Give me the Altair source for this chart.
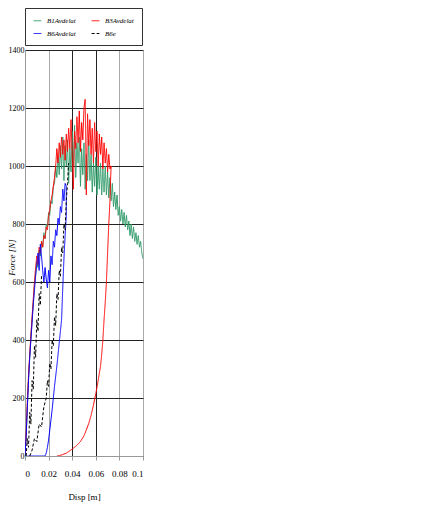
import altair as alt
import pandas as pd

series_names = ["B1Avdelat", "B3Avdelat", "B6Avdelat", "B6e"]
series_colors = ["#2e9a68", "#ff0000", "#0000ff", "#000000"]
series_dash = [[1, 0], [1, 0], [1, 0], [3, 2]]
series_width = [1, 1, 1, 2]

# B1Avdelat (green)
b1_x = [0.000, 0.001, 0.002, 0.003, 0.004, 0.005, 0.006, 0.007, 0.008, 0.009,
        0.010, 0.011, 0.012, 0.013, 0.014, 0.015, 0.016, 0.017, 0.018, 0.019,
        0.020, 0.021, 0.022, 0.023, 0.024, 0.025, 0.026, 0.027, 0.028, 0.029,
        0.030, 0.031, 0.032, 0.033, 0.034, 0.035, 0.036, 0.037, 0.038, 0.039,
        0.040, 0.041, 0.042, 0.043, 0.044, 0.045, 0.046, 0.047, 0.048, 0.049,
        0.050, 0.051, 0.052, 0.053, 0.054, 0.055, 0.056, 0.057, 0.058, 0.059,
        0.060, 0.061, 0.062, 0.063, 0.064, 0.065, 0.066, 0.067, 0.068, 0.069,
        0.070, 0.071, 0.072, 0.073, 0.074, 0.075, 0.076, 0.077, 0.078, 0.079,
        0.080, 0.081, 0.082, 0.083, 0.084, 0.085, 0.086, 0.087, 0.088, 0.089,
        0.090, 0.091, 0.092, 0.093, 0.094, 0.095, 0.096, 0.097, 0.098, 0.099,
        0.100]
b1_y = [0, 70, 170, 270, 340, 410, 470, 530, 590, 630,
        670, 650, 710, 690, 740, 720, 770, 750, 800, 790,
        840, 830, 880, 870, 930, 940, 1000, 960, 1030, 970,
        1070, 990, 1100, 950, 1070, 1000, 1090, 940, 1060, 980,
        1120, 1000, 1140, 960, 1080, 1010, 1100, 930, 1060, 970,
        1080, 920, 1040, 950, 1090, 950, 1040, 910, 1010, 930,
        1030, 900, 1000, 920, 1010, 900, 990, 910, 1000, 900,
        980, 890, 960, 880, 940, 860, 910, 850, 900, 830,
        860, 810, 850, 800, 840, 790, 830, 780, 810, 760,
        800, 750, 790, 740, 770, 730, 760, 720, 740, 700,
        680]

# B3Avdelat (red)
b3_x = [0.000, 0.001, 0.002, 0.003, 0.004, 0.005, 0.006, 0.007, 0.008, 0.009,
        0.010, 0.011, 0.012, 0.013, 0.014, 0.015, 0.016, 0.017, 0.018, 0.019,
        0.020, 0.021, 0.022, 0.023, 0.024, 0.025, 0.026, 0.027, 0.028, 0.029,
        0.030, 0.031, 0.032, 0.033, 0.034, 0.035, 0.036, 0.037, 0.038, 0.039,
        0.040, 0.041, 0.042, 0.043, 0.044, 0.045, 0.046, 0.047, 0.048, 0.049,
        0.050, 0.051, 0.052, 0.053, 0.054, 0.055, 0.056, 0.057, 0.058, 0.059,
        0.060, 0.061, 0.062, 0.063, 0.064, 0.065, 0.066, 0.067, 0.068, 0.069,
        0.070, 0.071, 0.072, 0.073,
        0.0725, 0.072, 0.071, 0.070, 0.069, 0.068, 0.067, 0.066, 0.065, 0.064,
        0.062, 0.060, 0.058, 0.056, 0.054, 0.052, 0.050, 0.047, 0.044, 0.041,
        0.038, 0.035, 0.032, 0.029, 0.027]
b3_y = [0, 80, 190, 280, 350, 420, 480, 540, 600, 650,
        690, 660, 720, 700, 740, 720, 760, 750, 790, 780,
        830, 850, 880, 900, 930, 960, 1000, 1060, 1010, 1080,
        1030, 1100, 1040, 1090, 1020, 1110, 1050, 1130, 1060, 1160,
        1040, 920, 1120, 1060, 1170, 1080, 1190, 1050, 1150, 1090,
        1200, 1230, 900, 1180, 1070, 1160, 1040, 1130, 1010, 1150,
        1050, 1120, 1000, 1110, 1040, 1100, 990, 1080, 1010, 1060,
        980, 1040, 990, 1000,
        950, 880, 800, 700, 600, 530, 470, 400, 350, 310,
        260, 215, 175, 140, 112, 90, 70, 50, 37, 27,
        18, 10, 5, 1, 0]

# B6Avdelat (blue)
b6_x = [0.000, 0.001, 0.002, 0.003, 0.004, 0.005, 0.006, 0.007, 0.008, 0.009,
        0.010, 0.011, 0.012, 0.013, 0.014, 0.015, 0.016, 0.017, 0.018, 0.019,
        0.020, 0.021, 0.022, 0.023, 0.024, 0.025, 0.026, 0.027, 0.028, 0.029,
        0.030, 0.031, 0.032, 0.033, 0.034, 0.035,
        0.035, 0.034, 0.033, 0.032, 0.031, 0.030, 0.029, 0.028, 0.027, 0.026,
        0.025, 0.024, 0.023, 0.022, 0.021, 0.020, 0.019, 0.018, 0.017, 0.010,
        0.002]
b6_y = [0, 70, 170, 260, 340, 400, 460, 520, 570, 620,
        660, 700, 640, 730, 690, 640, 600, 650, 610, 580,
        640, 600, 690, 660, 740, 720, 780, 760, 820, 800,
        860, 840, 920, 880, 940, 930,
        830, 760, 680, 580, 470, 430, 390, 350, 310, 275,
        240, 200, 160, 125, 90, 55, 30, 10, 0, 0,
        0]

# B6e (black dashed), two branches
b6e_x = [0.001, 0.002, 0.003, 0.004, 0.005, 0.006, 0.007, 0.008, 0.009, 0.010,
         0.011, 0.012, 0.013, 0.014,
         0.004, 0.006, 0.008, 0.010, 0.012, 0.014, 0.016, 0.018, 0.019, 0.020,
         0.021, 0.022, 0.023, 0.024, 0.025, 0.026, 0.027, 0.028, 0.029, 0.030,
         0.031, 0.032, 0.033, 0.034, 0.035, 0.036, 0.037]
b6e_y = [0, 60, 30, 150, 110, 260, 230, 380, 340, 470,
         430, 560, 520, 620,
         0, 20, 60, 50, 110, 100, 170, 200, 260, 240,
         320, 300, 400, 380, 480, 450, 560, 540, 640, 620,
         720, 700, 800, 780, 880, 940, 1010]
b6e_seg = [0] * 14 + [1] * 27

rows = []
for name, xs, ys, segs in [
    ("B1Avdelat", b1_x, b1_y, [0] * len(b1_x)),
    ("B3Avdelat", b3_x, b3_y, [0] * len(b3_x)),
    ("B6Avdelat", b6_x, b6_y, [0] * len(b6_x)),
    ("B6e", b6e_x, b6e_y, b6e_seg),
]:
    for i, (x, y, s) in enumerate(zip(xs, ys, segs)):
        rows.append({"series": name, "seg": f"{name}-{s}", "i": i, "x": x, "y": y})
df = pd.DataFrame(rows)

x_ticks = [0, 0.02, 0.04, 0.06, 0.08, 0.1]
y_ticks = [0, 200, 400, 600, 800, 1000, 1200, 1400]

legend = alt.Legend(
    title=None, orient="none", legendX=0, legendY=-42, columns=2,
    direction="horizontal",
    symbolType="stroke", symbolSize=60, symbolStrokeWidth=1,
    labelFont="Liberation Serif", labelFontStyle="italic", labelFontSize=7,
    labelColor="black", padding=8, rowPadding=5, columnPadding=13,
    strokeColor="#333333", fillColor="white", labelOffset=5,
)

chart = alt.Chart(df).mark_line(clip=True).encode(
    x=alt.X("x:Q", scale=alt.Scale(domain=[0, 0.1], nice=False),
            axis=alt.Axis(values=x_ticks, format="~g", title="Disp [m]",
                          gridColor={"condition": {"test": "datum.value > 0.03 && datum.value < 0.07",
                                                   "value": "#222222"},
                                     "value": "#aaaaaa"},
                          gridWidth=1, tickSize=4, tickColor="#999999",
                          domainColor="#999999", labelPadding=9,
                          titlePadding=14, titleFontWeight="normal")),
    y=alt.Y("y:Q", scale=alt.Scale(domain=[0, 1400], nice=False),
            axis=alt.Axis(values=y_ticks, format="d", title="Force [N]", gridColor="#222222",
                          ticks=False, labelPadding=1, labelFontSize=8,
                          domainColor="#999999",
                          titleFontStyle="italic", titleFontWeight="normal",
                          titleX=-14, titleY=207, titleBaseline="middle")),
    color=alt.Color("series:N", scale=alt.Scale(domain=series_names, range=series_colors),
                    legend=legend),
    strokeDash=alt.StrokeDash("series:N", scale=alt.Scale(domain=series_names, range=series_dash),
                              legend=legend),
    strokeWidth=alt.StrokeWidth("series:N", scale=alt.Scale(domain=series_names, range=series_width),
                                legend=None),
    detail="seg:N",
    order="i:Q",
).properties(
    width=118, height=406,
    autosize=alt.AutoSizeParams(type="none"),
    padding={"left": 17, "top": 42, "right": 30, "bottom": 50},
).configure_axis(
    labelFont="Liberation Serif", titleFont="Liberation Serif",
    labelFontSize=9, titleFontSize=9, titleFontWeight="normal",
    labelColor="black", titleColor="black",
).configure_view(strokeWidth=0)

chart.save("out.html", embed_options={"renderer": "svg", "actions": False})
